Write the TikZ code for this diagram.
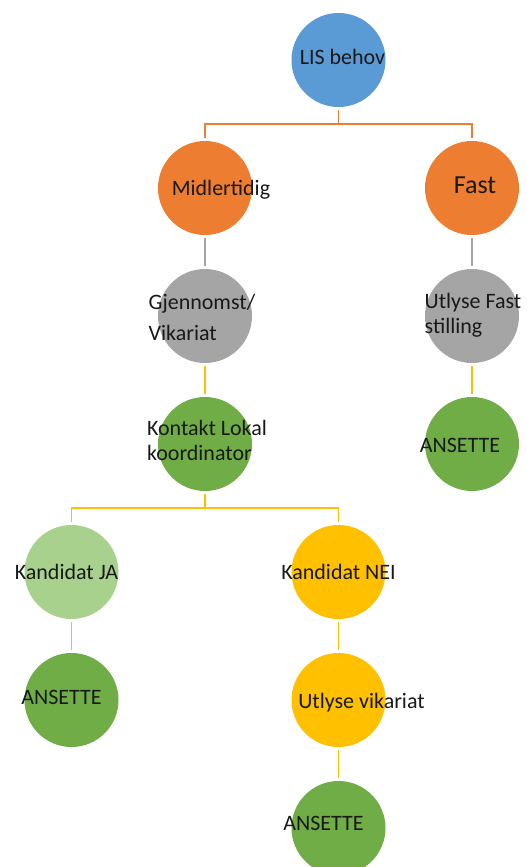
\documentclass[tikz,border=0pt]{standalone}
\usepackage{fontspec}
\setmainfont{Carlito}
\definecolor{accblue}{HTML}{5B9BD5}
\definecolor{accorange}{HTML}{ED7D31}
\definecolor{accgray}{HTML}{A5A5A5}
\definecolor{accyellow}{HTML}{FFC000}
\definecolor{accgreen}{HTML}{70AD47}
\definecolor{acclightgreen}{HTML}{A9D18E}
\begin{document}
\begin{tikzpicture}[
        every node/.style={circle, minimum size=94pt, inner sep=0pt},
        txt/.style={minimum size=0pt, align=left, text=black!90, font=\fontsize{22}{25}\selectfont},
        every label/.style={txt},
        bluecircle/.style={fill=accblue},
        orangecircle/.style={fill=accorange},
        graycircle/.style={fill=accgray},
        greencircle/.style={fill=accgreen},
        lightgreencircle/.style={fill=acclightgreen},
        yellowcircle/.style={fill=accyellow},
        edge from parent/.style={draw, line width=1.6pt, shorten <=3pt, shorten >=3pt},
        edge from parent path={(\tikzparentnode.south) -- +(0,-17pt) -| (\tikzchildnode.north)},
        orangeedge/.style={edge from parent/.append style={draw=accorange}},
        grayedge/.style={edge from parent/.append style={draw=accgray}},
        yellowedge/.style={edge from parent/.append style={draw=accyellow}},
        level 1/.style={sibling distance=267pt},
        level 4/.style={sibling distance=267pt},
        level distance=128pt,
    ]
    \useasboundingbox (0,0) rectangle (527pt,-867pt);
    \node[bluecircle, label={[xshift=4pt,yshift=3pt]center:LIS behov}](lis) at (338.5pt,-60pt){}
    child[orangeedge]{node[orangecircle, label={[xshift=16pt,yshift=-2pt]center:Midlertidig}](midl){}
        child[grayedge]{node[graycircle, label={[xshift=-3pt,yshift=-1pt]center:Gjennomst/\\[6pt]Vikariat}](gjen){}
            child[yellowedge]{node[greencircle, label={[xshift=2pt,yshift=4pt]center:Kontakt Lokal\\koordinator}](kontakt){}
                child[yellowedge]{node[lightgreencircle, label={[xshift=-5pt]center:Kandidat JA}](ja){}
                    child[yellowedge]{node[greencircle, label={[xshift=-10pt,yshift=3pt]center:ANSETTE}](ansja){}}
                }
                child[yellowedge]{node[yellowcircle, label={[xshift=0pt]center:Kandidat NEI}](nei){}
                    child[yellowedge]{node[yellowcircle, label={[xshift=23pt,yshift=-3pt]center:Utlyse vikariat}](vikar){}
                        child[yellowedge]{node[greencircle, label={[xshift=-15pt,yshift=5pt]center:ANSETTE}](ansnei){}}
                    }
                }
            }
        }
    }
    child[orangeedge]{node[orangecircle, label={[xshift=3pt,yshift=3pt,font=\fontsize{26}{30}\selectfont]center:Fast}](fast){}
        child[grayedge]{node[graycircle, label={[xshift=1pt,yshift=1pt]center:Utlyse Fast\\stilling}](utlfast){}
            child[yellowedge]{node[greencircle, label={[xshift=-12pt,yshift=-1pt]center:ANSETTE}](ansfast){}}
        }
    }
    ;
\end{tikzpicture}
\end{document}
